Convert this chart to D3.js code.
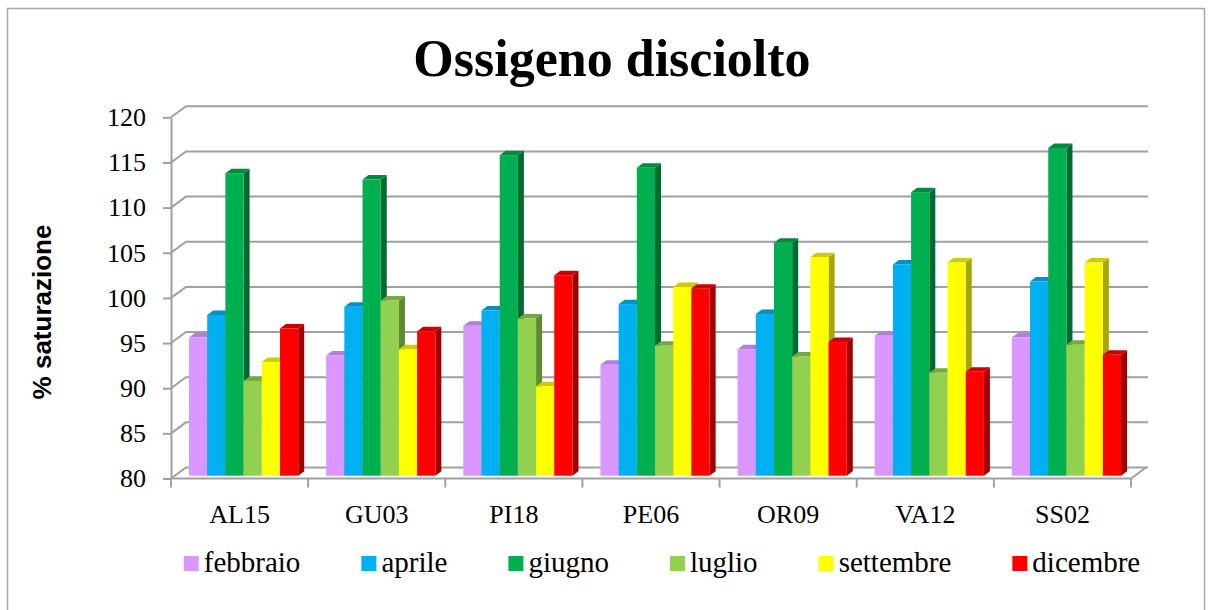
<!DOCTYPE html>
<html>
<head>
<meta charset="utf-8">
<script src="https://cdn.jsdelivr.net/npm/d3@7"></script>
<style>
  body { margin: 0; background: #fff; }
  svg { display: block; }
</style>
</head>
<body>
<svg id="chart" width="1213" height="610"></svg>
<script>
// --- data ---
const categories = ["AL15", "GU03", "PI18", "PE06", "OR09", "VA12", "SS02"];
const months = ["febbraio", "aprile", "giugno", "luglio", "settembre", "dicembre"];
const febbraio  = [95.3, 93.3, 96.6, 92.3, 94.0, 95.5, 95.3];
const aprile    = [97.8, 98.7, 98.3, 99.0, 97.9, 103.4, 101.5];
const giugno    = [113.5, 112.8, 115.5, 114.1, 105.8, 111.4, 116.3];
const luglio    = [90.5, 99.4, 97.4, 94.4, 93.2, 91.4, 94.5];
const settembre = [92.6, 94.0, 89.9, 100.9, 104.2, 103.6, 103.6];
const dicembre  = [96.3, 96.0, 102.2, 100.7, 94.8, 91.5, 93.4];
const yTicks = [80, 85, 90, 95, 100, 105, 110, 115, 120];

const series = [febbraio, aprile, giugno, luglio, settembre, dicembre];

// colours (front / top / side)
const front = ["#DA97FF", "#00B0F0", "#00B050", "#92D050", "#FFFF00", "#FF0000"];
const top_  = ["#B37ED6", "#0090C4", "#008A3E", "#76A83E", "#CCCC00", "#CC0000"];
const side  = ["#9A6BB8", "#0078A6", "#006B30", "#5E8A30", "#A6A600", "#A00000"];

const svg = d3.select("#chart");
const gridCol = "#a0a0a0";
const serifFont = '"Liberation Serif", "Times New Roman", "DejaVu Serif", serif';

// outer border
svg.append("rect")
  .attr("x", 7.5).attr("y", 8.5).attr("width", 1197).attr("height", 620)
  .attr("fill", "none").attr("stroke", "#a8a8a8").attr("stroke-width", 1.5);

// title
svg.append("text")
  .attr("x", 612).attr("y", 76)
  .attr("text-anchor", "middle")
  .attr("font-family", serifFont)
  .attr("font-weight", "bold")
  .attr("font-size", 52)
  .text("Ossigeno disciolto");

// scales
const x = d3.scaleBand().domain(categories).range([171, 1131]);
const inner = d3.scaleBand().domain(months).range([18, 18 + 109.2]);
const y = d3.scaleLinear().domain([80, 120]).range([478.5, 117.3]);

// depth of the box and of the bars
const DX = 15, DY = -11;
const bx = 6, by = -4.5;
const barShift = -2.8; // bars sit a bit behind the front plane

// back-wall gridlines (with the diagonal on the left wall)
svg.append("g").selectAll("path")
  .data(yTicks)
  .join("path")
  .attr("d", v => `M171,${y(v)}L${171 + DX},${y(v) + DY}H${1131 + DX + 2}`)
  .attr("fill", "none")
  .attr("stroke", gridCol)
  .attr("stroke-width", 2);

// floor front edge and right diagonal
svg.append("path")
  .attr("d", `M171,${y(80)}H1131L${1131 + DX},${y(80) + DY}`)
  .attr("fill", "none").attr("stroke", gridCol).attr("stroke-width", 2);

// category boundary ticks
svg.append("g").selectAll("line")
  .data(d3.range(categories.length + 1))
  .join("line")
  .attr("x1", i => 171 + i * x.step()).attr("x2", i => 171 + i * x.step())
  .attr("y1", y(80)).attr("y2", y(80) + 9)
  .attr("stroke", gridCol).attr("stroke-width", 2);

// y axis
const yAxis = svg.append("g")
  .attr("transform", "translate(171,0)")
  .call(d3.axisLeft(y).tickValues(yTicks).tickSize(8).tickSizeOuter(0).tickPadding(17))
  .attr("font-family", serifFont)
  .attr("font-size", 26);
yAxis.select(".domain").attr("stroke", gridCol).attr("stroke-width", 2);
yAxis.selectAll(".tick line").attr("stroke", gridCol).attr("stroke-width", 2);
yAxis.selectAll(".tick text").attr("fill", "#000");

// x axis labels
const xAxis = svg.append("g")
  .attr("transform", `translate(0,${y(80)})`)
  .call(d3.axisBottom(x).tickSize(0).tickPadding(26))
  .attr("font-family", serifFont)
  .attr("font-size", 26);
xAxis.select(".domain").remove();
xAxis.selectAll(".tick text").attr("fill", "#000");

// axis title
svg.append("text")
  .attr("transform", "translate(51,312) rotate(-90)")
  .attr("text-anchor", "middle")
  .attr("font-family", '"Liberation Sans", Arial, sans-serif')
  .attr("font-weight", "bold")
  .attr("font-size", 26)
  .text("% saturazione");

// bars
const bw = inner.bandwidth();
const yb = y(80) + barShift;
const bars = svg.append("g");
categories.forEach((c, ci) => {
  months.forEach((m, si) => {
    const v = series[si][ci];
    const x0 = x(c) + inner(m);
    const yt = y(v) + barShift;
    const g = bars.append("g");
    g.append("path")
      .attr("d", `M${x0 + bw},${yt}L${x0 + bw + bx},${yt + by}L${x0 + bw + bx},${yb + by}L${x0 + bw},${yb}Z`)
      .attr("fill", side[si]);
    g.append("path")
      .attr("d", `M${x0},${yt}L${x0 + bx},${yt + by}L${x0 + bw + bx},${yt + by}L${x0 + bw},${yt}Z`)
      .attr("fill", top_[si]);
    g.append("rect")
      .attr("x", x0).attr("y", yt)
      .attr("width", bw).attr("height", yb - yt)
      .attr("fill", front[si]);
  });
});

// legend
const legend = svg.append("g")
  .attr("font-family", serifFont)
  .attr("font-size", 29);
const items = legend.selectAll("g").data(months).join("g");
items.append("rect")
  .attr("x", 0).attr("y", 556).attr("width", 15).attr("height", 15)
  .attr("fill", (d, i) => front[i]);
items.append("text")
  .attr("x", 20).attr("y", 572)
  .text(d => d);
const widths = [];
items.each(function () { widths.push(20 + d3.select(this).select("text").node().getComputedTextLength()); });
const gap = 61;
const total = d3.sum(widths) + gap * (widths.length - 1);
let pos = 662 - total / 2;
items.attr("transform", (d, i) => {
  const t = `translate(${pos},0)`;
  pos += widths[i] + gap;
  return t;
});
</script>
</body>
</html>
